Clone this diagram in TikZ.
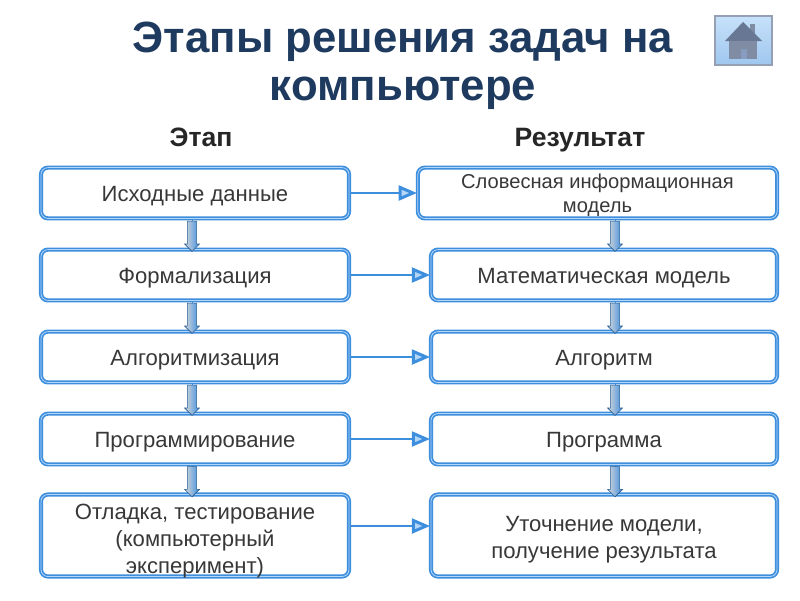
\documentclass[tikz,border=0pt]{standalone}
\usepackage{fontspec}
\setmainfont{Liberation Sans}
\usetikzlibrary{arrows.meta,shapes.arrows}
\definecolor{boxblue}{RGB}{62,142,222}
\definecolor{paleblue}{RGB}{180,215,248}
\definecolor{titleblue}{RGB}{31,58,95}
\definecolor{housegray}{RGB}{104,120,148}
\tikzset{
    stagebox/.style={
        draw=boxblue,
        double=paleblue,
        double distance=0.55pt,
        line width=1.2pt,
        rounded corners=5pt,
        fill=white,
        align=center,
        inner sep=0pt,
        font=\fontsize{15.7}{19.2}\selectfont,
        text=black!78,
        execute at begin node={\rule{0pt}{15pt}}
    },
    % синяя стрелка между этапом и результатом
    bluearrow/.style={
        line width=2.1pt,
        boxblue,
        -{Triangle[length=13pt, width=10.5pt, open, fill=paleblue]}
    },
    stemline/.style={
        line width=0.6pt,
        boxblue
    },
    downblock/.style={
        single arrow,
        rotate=-90,
        draw=black!35!boxblue,
        line width=0.4pt,
        top color=black!15,
        middle color=white,
        bottom color=boxblue,
        shading angle=90,
        minimum height=21.5pt,
        minimum width=10.5pt,
        text height=3pt,
        text depth=3pt,
        single arrow head extend=2pt,
        single arrow head indent=0pt,
        inner sep=0pt
    },
    headtext/.style={
        anchor=base,
        font=\fontsize{18.9}{22}\selectfont\bfseries,
        text=black!85
    }
}
\begin{document}
\begin{tikzpicture}[x=0.025cm,y=-0.025cm]
   \useasboundingbox (0,0) rectangle (800,600);
   \node[font=\fontsize{31.1}{34}\selectfont\bfseries,text=titleblue,align=center] (title) at (403,66) {Этапы решения задач на\\[0.2pt]компьютере};
   \node[headtext] (stagehead) at (201,146) {Этап};
   \node[headtext] (resulthead) at (580,146) {Результат};

   \node[stagebox,minimum width=7.7cm,minimum height=1.27cm] (stage1) at (195,193) {Исходные данные};
   \node[stagebox,minimum width=7.7cm,minimum height=1.27cm] (stage2) at (195,275) {Формализация};
   \node[stagebox,minimum width=7.7cm,minimum height=1.27cm] (stage3) at (195,357) {Алгоритмизация};
   \node[stagebox,minimum width=7.7cm,minimum height=1.27cm] (stage4) at (195,439) {Программирование};
   \node[stagebox,minimum width=7.7cm,minimum height=2.05cm] (stage5) at (195,535.5) {\rule{0pt}{15pt}Отладка, тестирование\\(компьютерный\\\smash{эксперимент)}};

   \node[stagebox,minimum width=8.98cm,minimum height=1.27cm,font=\fontsize{14.3}{17}\selectfont] (result1) at (597.5,193) {\rule{0pt}{13.5pt}Словесная информационная\\модель};
   \node[stagebox,minimum width=8.65cm,minimum height=1.27cm] (result2) at (604,275) {Математическая модель};
   \node[stagebox,minimum width=8.65cm,minimum height=1.27cm] (result3) at (604,357) {Алгоритм};
   \node[stagebox,minimum width=8.65cm,minimum height=1.27cm] (result4) at (604,439) {Программа};
   \node[stagebox,minimum width=8.65cm,minimum height=2.05cm] (result5) at (604,535.5) {\rule{0pt}{16.5pt}Уточнение модели,\\получение результата};

   \draw[bluearrow] (stage1) -- (result1);
   \draw[bluearrow] (stage2) -- (result2);
   \draw[bluearrow] (stage3) -- (result3);
   \draw[bluearrow] (stage4) -- (result4);
   \draw[bluearrow] (stage5.east |- 0,526) -- (result5.west |- 0,526);

   \foreach \a/\b in {1/2,2/3,3/4,4/5}{
     \draw[stemline] (stage\a.south -| 192,0) -- node[downblock] (sdown\a) {} (stage\b.north -| 192,0);
     \draw[stemline] (result\a.south -| 615,0) -- node[downblock] (rdown\a) {} (result\b.north -| 615,0);
   }

   % значок домика
   \draw[draw=housegray!70,line width=0.8pt,top color=paleblue!75,bottom color=boxblue!50] (715,16) rectangle (772,65);
   \fill[housegray!85] (750,24) rectangle (755,36);
   \fill[housegray] (743,22) -- (762,41) -- (725,41) -- cycle;
   \fill[housegray!85] (729,41) rectangle (757,59);
   \fill[housegray!130!black] (740.5,49) rectangle (746.5,59);
\end{tikzpicture}
\end{document}
